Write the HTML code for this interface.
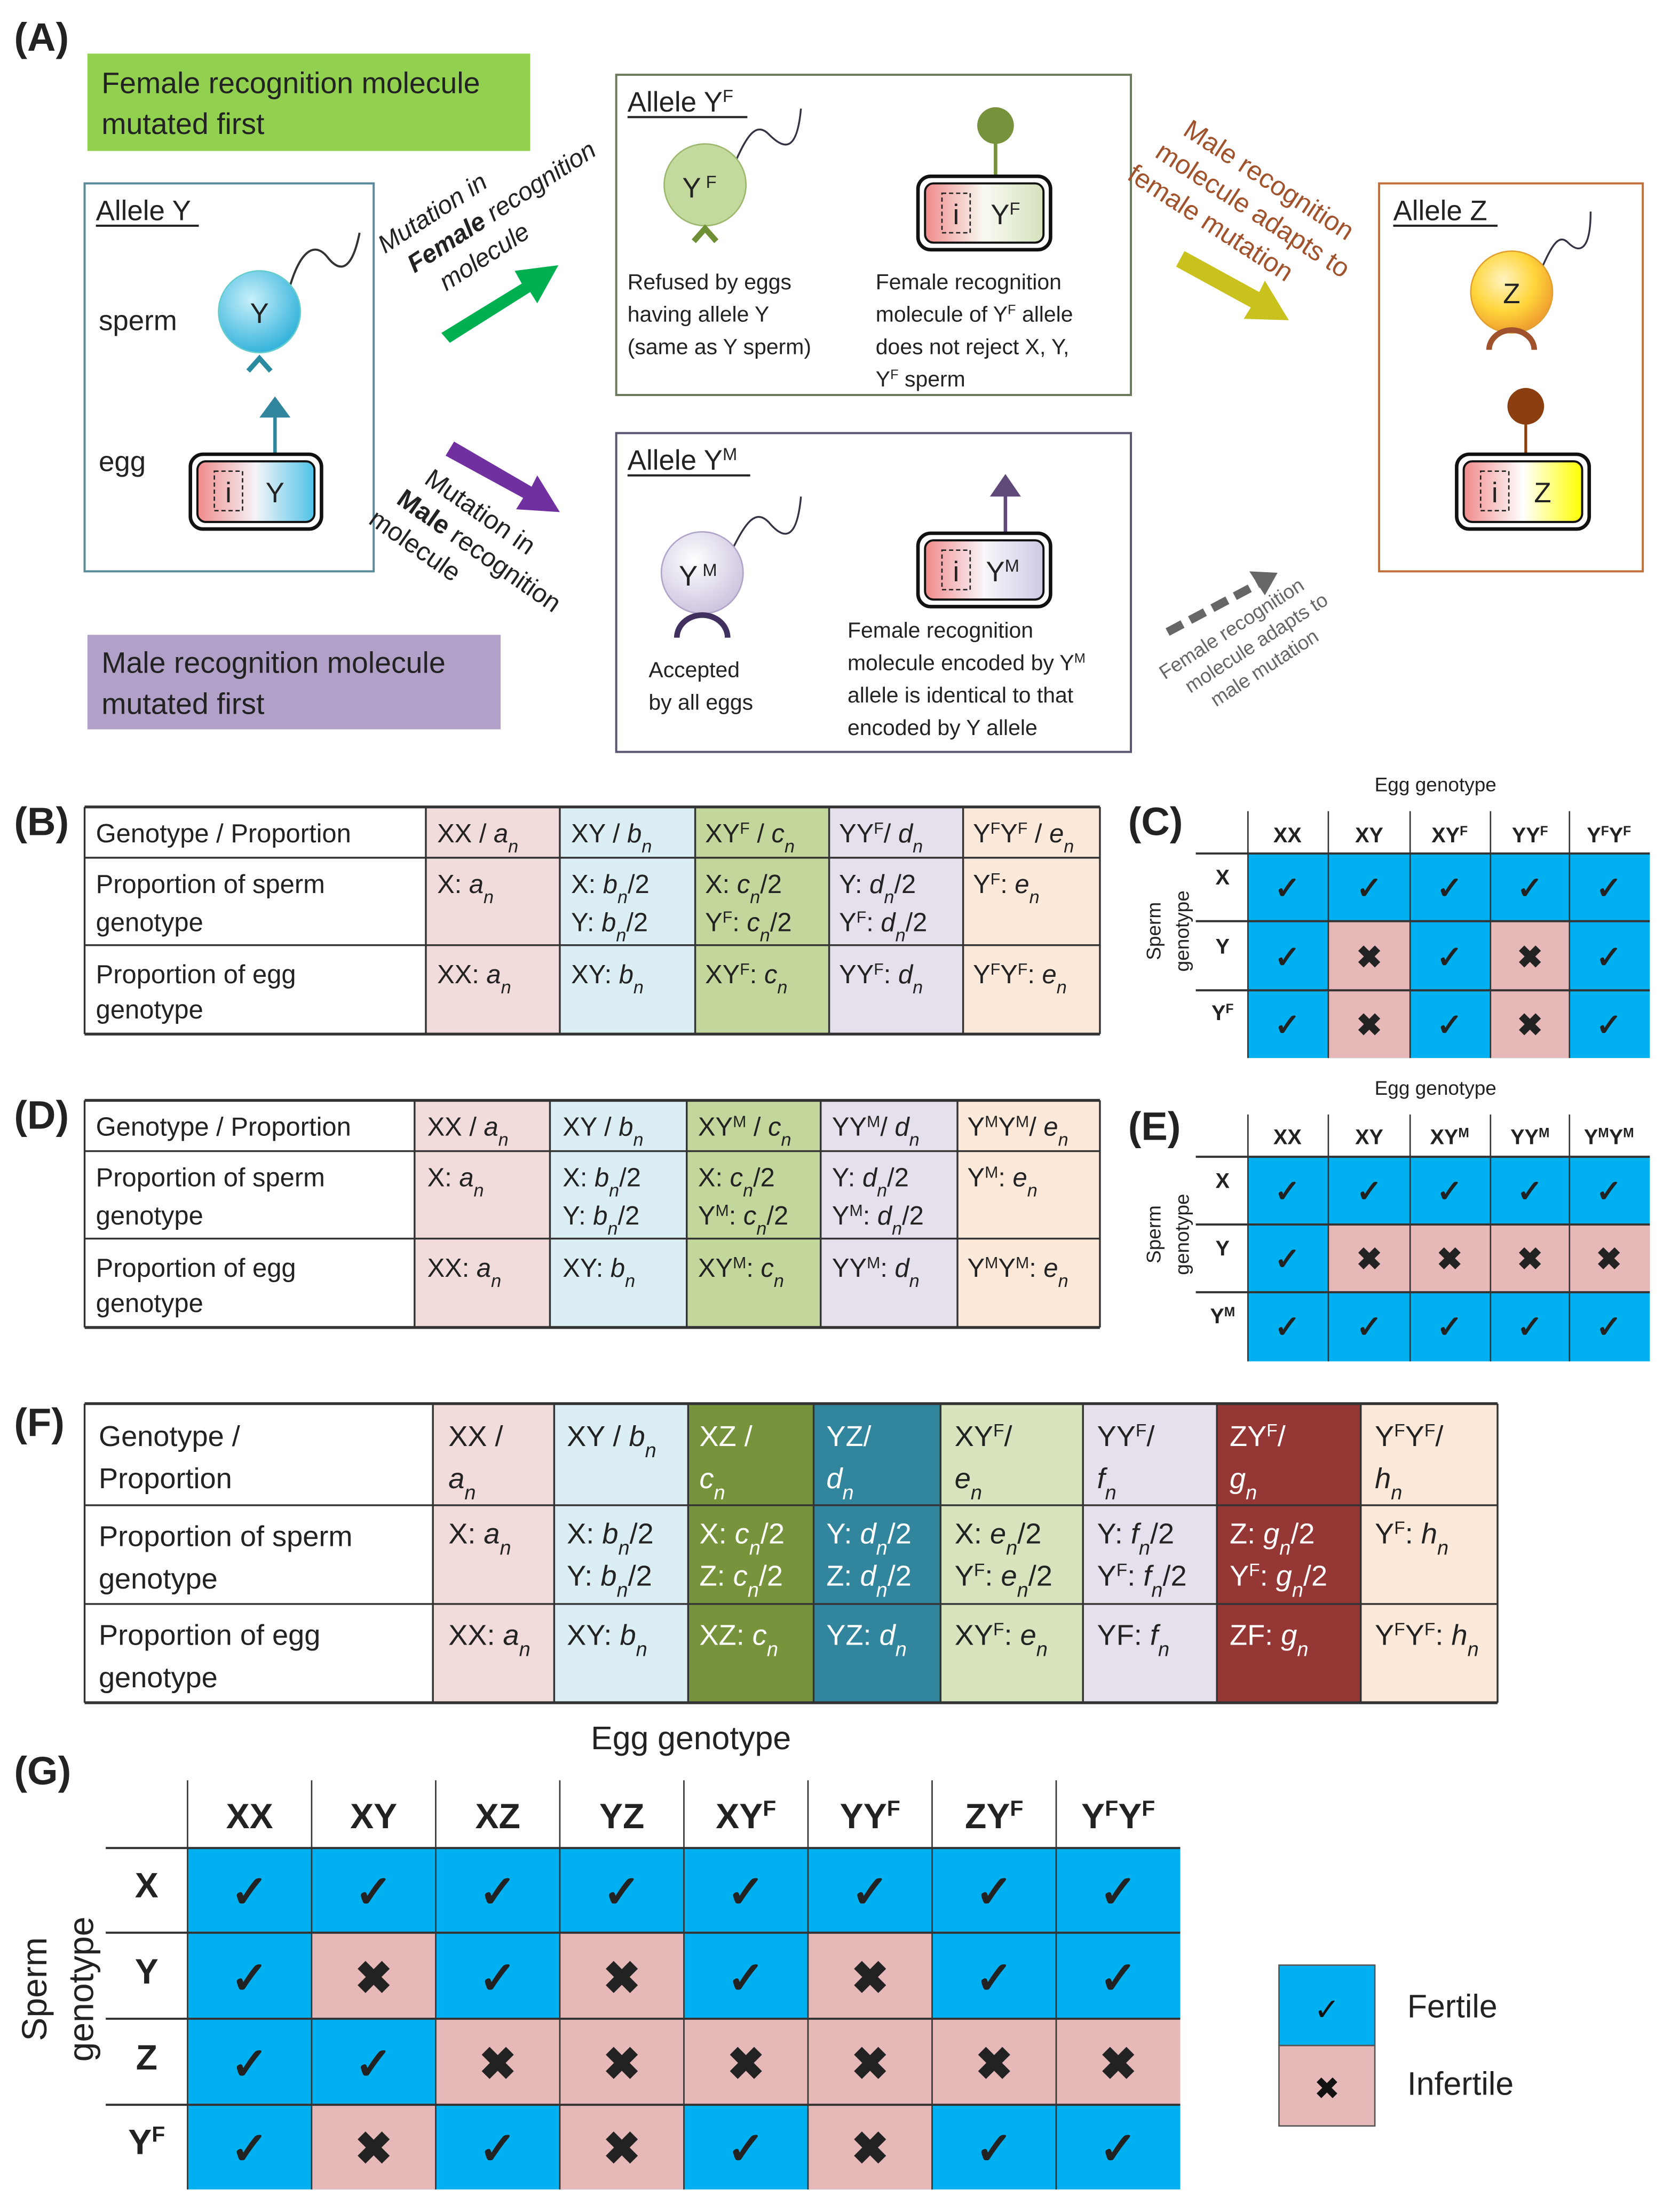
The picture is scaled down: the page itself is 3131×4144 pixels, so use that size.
<!DOCTYPE html>
<html><head><meta charset="utf-8">
<style>
html,body{margin:0;padding:0;background:#fff;}
svg{display:block;}
text{font-family:"Liberation Sans",sans-serif;fill:#222;}
.i{font-style:italic;}
.sb{baseline-shift:sub;font-size:70%;font-style:italic;}
.sp{baseline-shift:super;font-size:62%;}
.b{font-weight:bold;}
.w{fill:#fff;}
.ck{font-family:"DejaVu Sans",sans-serif;font-size:22px;font-weight:bold;text-anchor:middle;fill:#111;}
.ckg{font-family:"DejaVu Sans",sans-serif;font-size:32px;font-weight:bold;text-anchor:middle;fill:#111;}
</style></head>
<body>
<svg width="3131" height="4144" viewBox="0 0 1185 1568" preserveAspectRatio="none" xmlns="http://www.w3.org/2000/svg">
<defs>
<radialGradient id="gb" cx="40%" cy="35%" r="65%"><stop offset="0" stop-color="#c8f0fb"/><stop offset="1" stop-color="#37b4dc"/></radialGradient>
<radialGradient id="gy" cx="40%" cy="35%" r="65%"><stop offset="0" stop-color="#fff3c0"/><stop offset="0.6" stop-color="#ffd53a"/><stop offset="1" stop-color="#f0a030"/></radialGradient>
<radialGradient id="gm" cx="40%" cy="35%" r="65%"><stop offset="0" stop-color="#ffffff"/><stop offset="1" stop-color="#cfc5e0"/></radialGradient>
<linearGradient id="eY"><stop offset="0" stop-color="#f08a8a"/><stop offset="0.5" stop-color="#f4f4f8"/><stop offset="1" stop-color="#4fc3e8"/></linearGradient>
<linearGradient id="eF"><stop offset="0" stop-color="#f08a8a"/><stop offset="0.5" stop-color="#f8faf2"/><stop offset="1" stop-color="#d4e2bc"/></linearGradient>
<linearGradient id="eM"><stop offset="0" stop-color="#f08a8a"/><stop offset="0.5" stop-color="#f8f6fa"/><stop offset="1" stop-color="#d0c8e4"/></linearGradient>
<linearGradient id="eZ"><stop offset="0" stop-color="#f08a8a"/><stop offset="0.5" stop-color="#ffffff"/><stop offset="1" stop-color="#ffff00"/></linearGradient>
</defs>

<!-- ===== Panel A ===== -->
<text x="10" y="36" class="b" font-size="28">(A)</text>
<rect x="62" y="38" width="314" height="69" fill="#92d050"/>
<text x="72" y="66" font-size="21">Female recognition molecule</text>
<text x="72" y="95" font-size="21">mutated first</text>

<rect x="62" y="450" width="293" height="67" fill="#b1a0c7"/>
<text x="72" y="477" font-size="21">Male recognition molecule</text>
<text x="72" y="506" font-size="21">mutated first</text>

<!-- Allele Y -->
<rect x="60" y="130" width="205" height="275" fill="#fff" stroke="#5b8a9a" stroke-width="1.5"/>
<text x="68" y="156" font-size="20">Allele Y</text>
<line x1="68" y1="160" x2="141" y2="160" stroke="#222" stroke-width="1.5"/>
<text x="70" y="234" font-size="20">sperm</text>
<text x="70" y="334" font-size="20">egg</text>
<path d="M205,205 C212,180 222,170 232,182 C242,195 250,190 255,165" fill="none" stroke="#333" stroke-width="1.5"/>
<circle cx="184" cy="221" r="29" fill="url(#gb)" stroke="#6cc" stroke-width="1"/>
<text x="184" y="229" font-size="20" text-anchor="middle">Y</text>
<path d="M176,263 L184,254 L192,263" fill="none" stroke="#2a8aa0" stroke-width="3.5"/>
<line x1="195" y1="322" x2="195" y2="293" stroke="#31859c" stroke-width="2.5"/>
<polygon points="184,296 206,296 195,281" fill="#31859c"/>
<rect x="135" y="322" width="93" height="53" rx="9" fill="#fff" stroke="#111" stroke-width="2.5"/>
<rect x="140" y="327" width="83" height="43" rx="6" fill="url(#eY)" stroke="#111" stroke-width="1.5"/>
<rect x="152" y="334" width="20" height="28" fill="none" stroke="#222" stroke-dasharray="3,2"/>
<text x="162" y="356" font-size="20" text-anchor="middle">i</text>
<text x="195" y="356" font-size="20" text-anchor="middle">Y</text>

<!-- Green arrow -->
<polygon points="313,236 370,201 365,192 396,188 381,215 376,207 319,243" fill="#00b050"/>
<g transform="translate(273,180) rotate(-33)">
<text x="0" y="0" font-size="18" class="i">Mutation in</text>
<text x="10" y="23" font-size="18" class="i"><tspan class="b">Female</tspan> recognition</text>
<text x="22" y="46" font-size="18" class="i">molecule</text>
</g>
<!-- Purple arrow -->
<polygon points="316,323 322,313 377,345 381,337 397,363 366,361 371,353" fill="#7030a0"/>
<g transform="translate(300,342) rotate(35)">
<text x="0" y="0" font-size="18.5">Mutation in</text>
<text x="-8" y="23" font-size="18.5"><tspan class="b">Male</tspan> recognition</text>
<text x="-16" y="46" font-size="18.5">molecule</text>
</g>

<!-- Allele YF -->
<rect x="437" y="53" width="365" height="227" fill="#fff" stroke="#6b7a5a" stroke-width="1.5"/>
<text x="445" y="79" font-size="20">Allele Y<tspan class="sp">F</tspan></text>
<line x1="445" y1="83" x2="530" y2="83" stroke="#222" stroke-width="1.5"/>
<path d="M520,118 C528,100 535,85 545,95 C555,105 565,110 568,77" fill="none" stroke="#334" stroke-width="1.3"/>
<circle cx="500" cy="131" r="29" fill="#c4d99e" stroke="#9bb86c" stroke-width="1"/>
<text x="496" y="140" font-size="20" text-anchor="middle">Y<tspan class="sp" font-size="12"> F</tspan></text>
<path d="M492,171 L500,162 L508,171" fill="none" stroke="#6f8f35" stroke-width="4"/>
<line x1="706" y1="97" x2="706" y2="126" stroke="#76923c" stroke-width="2.5"/>
<circle cx="706" cy="89" r="13" fill="#76923c"/>
<rect x="651" y="125" width="94" height="52" rx="9" fill="#fff" stroke="#111" stroke-width="2.5"/>
<rect x="656" y="130" width="84" height="42" rx="6" fill="url(#eF)" stroke="#111" stroke-width="1.5"/>
<rect x="668" y="137" width="20" height="28" fill="none" stroke="#222" stroke-dasharray="3,2"/>
<text x="678" y="159" font-size="20" text-anchor="middle">i</text>
<text x="713" y="159" font-size="20" text-anchor="middle">Y<tspan class="sp">F</tspan></text>
<text x="445" y="205" font-size="15.5">Refused by eggs</text>
<text x="445" y="228" font-size="15.5">having allele Y</text>
<text x="445" y="251" font-size="15.5">(same as Y sperm)</text>
<text x="621" y="205" font-size="15.5">Female recognition</text>
<text x="621" y="228" font-size="15.5">molecule of Y<tspan class="sp">F</tspan> allele</text>
<text x="621" y="251" font-size="15.5">does not reject X, Y,</text>
<text x="621" y="274" font-size="15.5">Y<tspan class="sp">F</tspan> sperm</text>

<!-- Allele YM -->
<rect x="437" y="307" width="365" height="226" fill="#fff" stroke="#5a5470" stroke-width="1.5"/>
<text x="445" y="333" font-size="20">Allele Y<tspan class="sp">M</tspan></text>
<line x1="445" y1="337" x2="532" y2="337" stroke="#222" stroke-width="1.5"/>
<path d="M518,392 C528,372 535,360 545,370 C555,382 565,385 568,352" fill="none" stroke="#334" stroke-width="1.3"/>
<circle cx="498" cy="406" r="29" fill="url(#gm)" stroke="#b0a4c8" stroke-width="1"/>
<text x="495" y="415" font-size="20" text-anchor="middle">Y<tspan class="sp" font-size="12"> M</tspan></text>
<path d="M480,452 A18,16 0 0 1 516,452" fill="none" stroke="#3f3060" stroke-width="4"/>
<line x1="713" y1="378" x2="713" y2="350" stroke="#5f497a" stroke-width="2.5"/>
<polygon points="702,352 724,352 713,336" fill="#5f497a"/>
<rect x="651" y="378" width="94" height="52" rx="9" fill="#fff" stroke="#111" stroke-width="2.5"/>
<rect x="656" y="383" width="84" height="42" rx="6" fill="url(#eM)" stroke="#111" stroke-width="1.5"/>
<rect x="668" y="390" width="20" height="28" fill="none" stroke="#222" stroke-dasharray="3,2"/>
<text x="678" y="412" font-size="20" text-anchor="middle">i</text>
<text x="711" y="412" font-size="20" text-anchor="middle">Y<tspan class="sp">M</tspan></text>
<text x="460" y="480" font-size="15.5">Accepted</text>
<text x="460" y="503" font-size="15.5">by all eggs</text>
<text x="601" y="452" font-size="15.5">Female recognition</text>
<text x="601" y="475" font-size="15.5">molecule encoded by Y<tspan class="sp">M</tspan></text>
<text x="601" y="498" font-size="15.5">allele is identical to that</text>
<text x="601" y="521" font-size="15.5">encoded by Y allele</text>

<!-- Yellow arrow + text -->
<polygon points="834,189 840,178 893,207 897,199 914,227 882,226 887,218" fill="#c9c21e"/>
<g transform="translate(838,95) rotate(33)">
<text x="0" y="0" font-size="19" style="fill:#a0522d">Male recognition</text>
<text x="-8" y="24" font-size="19" style="fill:#a0522d">molecule adapts to</text>
<text x="-16" y="48" font-size="19" style="fill:#a0522d">female mutation</text>
</g>
<!-- Gray dashed arrow + text -->
<line x1="828" y1="448" x2="892" y2="414" stroke="#666" stroke-width="6" stroke-dasharray="12,6"/>
<polygon points="886,405 906,406 897,422" fill="#666"/>
<g transform="translate(826,482) rotate(-33)">
<text x="0" y="0" font-size="14" style="fill:#666">Female recognition</text>
<text x="10" y="18" font-size="14" style="fill:#666">molecule adapts to</text>
<text x="20" y="36" font-size="14" style="fill:#666">male mutation</text>
</g>

<!-- Allele Z -->
<rect x="978" y="130" width="187" height="275" fill="#fff" stroke="#c0703a" stroke-width="1.5"/>
<text x="988" y="156" font-size="20">Allele Z</text>
<line x1="988" y1="160" x2="1062" y2="160" stroke="#222" stroke-width="1.5"/>
<path d="M1092,193 C1100,175 1105,165 1112,172 C1120,180 1128,178 1128,150" fill="none" stroke="#334" stroke-width="1.3"/>
<circle cx="1072" cy="207" r="29" fill="url(#gy)" stroke="#e0a030" stroke-width="1"/>
<text x="1072" y="215" font-size="20" text-anchor="middle">Z</text>
<path d="M1056,248 A16,14 0 0 1 1088,248" fill="none" stroke="#a0522d" stroke-width="4"/>
<line x1="1082" y1="296" x2="1082" y2="323" stroke="#8b3f10" stroke-width="2"/>
<circle cx="1082" cy="288" r="13" fill="#8b3f10"/>
<rect x="1033" y="322" width="94" height="53" rx="9" fill="#fff" stroke="#111" stroke-width="2.5"/>
<rect x="1038" y="327" width="84" height="43" rx="6" fill="url(#eZ)" stroke="#111" stroke-width="1.5"/>
<rect x="1050" y="334" width="20" height="28" fill="none" stroke="#222" stroke-dasharray="3,2"/>
<text x="1060" y="356" font-size="20" text-anchor="middle">i</text>
<text x="1094" y="356" font-size="20" text-anchor="middle">Z</text>

<!-- ===== Panel B ===== -->
<text x="10" y="592" class="b" font-size="28">(B)</text>
<rect x="302" y="572" width="95" height="161" fill="#f2dcdb"/>
<rect x="397" y="572" width="96" height="161" fill="#dbeef4"/>
<rect x="493" y="572" width="95" height="161" fill="#c3d69b"/>
<rect x="588" y="572" width="95" height="161" fill="#e5e0ec"/>
<rect x="683" y="572" width="97" height="161" fill="#fde9d9"/>
<g stroke="#333" stroke-width="1.3">
<line x1="60" y1="572" x2="780" y2="572" stroke-width="2"/><line x1="60" y1="608" x2="780" y2="608"/><line x1="60" y1="670" x2="780" y2="670"/><line x1="60" y1="733" x2="780" y2="733" stroke-width="2"/>
<line x1="60" y1="572" x2="60" y2="733"/><line x1="302" y1="572" x2="302" y2="733"/><line x1="397" y1="572" x2="397" y2="733"/><line x1="493" y1="572" x2="493" y2="733"/><line x1="588" y1="572" x2="588" y2="733"/><line x1="683" y1="572" x2="683" y2="733"/><line x1="780" y1="572" x2="780" y2="733"/>
</g>
<g font-size="18.5">
<text x="68" y="597">Genotype / Proportion</text>
<text x="68" y="633">Proportion of  sperm</text><text x="68" y="660">genotype</text>
<text x="68" y="697">Proportion of egg</text><text x="68" y="722">genotype</text>
<text x="310" y="597">XX / <tspan class="i">a</tspan><tspan class="sb">n</tspan></text>
<text x="405" y="597">XY /  <tspan class="i">b</tspan><tspan class="sb">n</tspan></text>
<text x="500" y="597">XY<tspan class="sp">F</tspan> /  <tspan class="i">c</tspan><tspan class="sb">n</tspan></text>
<text x="595" y="597">YY<tspan class="sp">F</tspan>/  <tspan class="i">d</tspan><tspan class="sb">n</tspan></text>
<text x="690" y="597">Y<tspan class="sp">F</tspan>Y<tspan class="sp">F</tspan> / <tspan class="i">e</tspan><tspan class="sb">n</tspan></text>
<text x="310" y="633">X: <tspan class="i">a</tspan><tspan class="sb">n</tspan></text>
<text x="405" y="633">X: <tspan class="i">b</tspan><tspan class="sb">n</tspan>/2</text><text x="405" y="660">Y: <tspan class="i">b</tspan><tspan class="sb">n</tspan>/2</text>
<text x="500" y="633">X: <tspan class="i">c</tspan><tspan class="sb">n</tspan>/2</text><text x="500" y="660">Y<tspan class="sp">F</tspan>: <tspan class="i">c</tspan><tspan class="sb">n</tspan>/2</text>
<text x="595" y="633">Y: <tspan class="i">d</tspan><tspan class="sb">n</tspan>/2</text><text x="595" y="660">Y<tspan class="sp">F</tspan>: <tspan class="i">d</tspan><tspan class="sb">n</tspan>/2</text>
<text x="690" y="633">Y<tspan class="sp">F</tspan>: <tspan class="i">e</tspan><tspan class="sb">n</tspan></text>
<text x="310" y="697">XX: <tspan class="i">a</tspan><tspan class="sb">n</tspan></text>
<text x="405" y="697">XY: <tspan class="i">b</tspan><tspan class="sb">n</tspan></text>
<text x="500" y="697">XY<tspan class="sp">F</tspan>: <tspan class="i">c</tspan><tspan class="sb">n</tspan></text>
<text x="595" y="697">YY<tspan class="sp">F</tspan>: <tspan class="i">d</tspan><tspan class="sb">n</tspan></text>
<text x="690" y="697">Y<tspan class="sp">F</tspan>Y<tspan class="sp">F</tspan>: <tspan class="i">e</tspan><tspan class="sb">n</tspan></text>
</g>

<!-- ===== Panel C ===== -->
<text x="1018" y="561" font-size="14" text-anchor="middle">Egg genotype</text>
<text x="800" y="592" class="b" font-size="28">(C)</text>
<rect x="885" y="605" width="285" height="145" fill="#00b0f0"/>
<rect x="942" y="653" width="58" height="97" fill="#e6b9b8"/>
<rect x="1057" y="653" width="56" height="97" fill="#e6b9b8"/>
<g stroke="#333" stroke-width="1">
<line x1="885" y1="575" x2="885" y2="750"/><line x1="942" y1="575" x2="942" y2="750"/><line x1="1000" y1="575" x2="1000" y2="750"/><line x1="1057" y1="575" x2="1057" y2="750"/><line x1="1113" y1="575" x2="1113" y2="750"/>
<line x1="848" y1="605" x2="1170" y2="605" stroke-width="1.5"/><line x1="848" y1="653" x2="1170" y2="653" stroke-width="1.5"/><line x1="848" y1="702" x2="1170" y2="702" stroke-width="1.5"/>
</g>
<g class="b" font-size="15" text-anchor="middle">
<text x="913" y="597">XX</text><text x="971" y="597">XY</text><text x="1028" y="597">XY<tspan class="sp">F</tspan></text><text x="1085" y="597">YY<tspan class="sp">F</tspan></text><text x="1141" y="597">Y<tspan class="sp">F</tspan>Y<tspan class="sp">F</tspan></text>
<text x="867" y="627">X</text><text x="867" y="676">Y</text><text x="867" y="723">Y<tspan class="sp">F</tspan></text>
</g>
<text transform="translate(823,660) rotate(-90)" font-size="14" text-anchor="middle">Sperm</text>
<text transform="translate(843,660) rotate(-90)" font-size="14" text-anchor="middle">genotype</text>
<g class="ck">
<text x="913" y="637">✓</text><text x="971" y="637">✓</text><text x="1028" y="637">✓</text><text x="1085" y="637">✓</text><text x="1141" y="637">✓</text>
<text x="913" y="686">✓</text><text x="971" y="686">✖</text><text x="1028" y="686">✓</text><text x="1085" y="686">✖</text><text x="1141" y="686">✓</text>
<text x="913" y="734">✓</text><text x="971" y="734">✖</text><text x="1028" y="734">✓</text><text x="1085" y="734">✖</text><text x="1141" y="734">✓</text>
</g>

<!-- ===== Panel D ===== -->
<text x="10" y="800" class="b" font-size="28">(D)</text>
<rect x="294" y="780" width="96" height="161" fill="#f2dcdb"/>
<rect x="390" y="780" width="97" height="161" fill="#dbeef4"/>
<rect x="487" y="780" width="95" height="161" fill="#c3d69b"/>
<rect x="582" y="780" width="97" height="161" fill="#e5e0ec"/>
<rect x="679" y="780" width="101" height="161" fill="#fde9d9"/>
<g stroke="#333" stroke-width="1.3">
<line x1="60" y1="780" x2="780" y2="780" stroke-width="2"/><line x1="60" y1="816" x2="780" y2="816"/><line x1="60" y1="878" x2="780" y2="878"/><line x1="60" y1="941" x2="780" y2="941" stroke-width="2"/>
<line x1="60" y1="780" x2="60" y2="941"/><line x1="294" y1="780" x2="294" y2="941"/><line x1="390" y1="780" x2="390" y2="941"/><line x1="487" y1="780" x2="487" y2="941"/><line x1="582" y1="780" x2="582" y2="941"/><line x1="679" y1="780" x2="679" y2="941"/><line x1="780" y1="780" x2="780" y2="941"/>
</g>
<g font-size="18.5">
<text x="68" y="805">Genotype / Proportion</text>
<text x="68" y="841">Proportion of  sperm</text><text x="68" y="868">genotype</text>
<text x="68" y="905">Proportion of egg</text><text x="68" y="930">genotype</text>
<text x="303" y="805">XX / <tspan class="i">a</tspan><tspan class="sb">n</tspan></text>
<text x="399" y="805">XY /  <tspan class="i">b</tspan><tspan class="sb">n</tspan></text>
<text x="495" y="805">XY<tspan class="sp">M</tspan> / <tspan class="i">c</tspan><tspan class="sb">n</tspan></text>
<text x="590" y="805">YY<tspan class="sp">M</tspan>/ <tspan class="i">d</tspan><tspan class="sb">n</tspan></text>
<text x="686" y="805">Y<tspan class="sp">M</tspan>Y<tspan class="sp">M</tspan>/ <tspan class="i">e</tspan><tspan class="sb">n</tspan></text>
<text x="303" y="841">X: <tspan class="i">a</tspan><tspan class="sb">n</tspan></text>
<text x="399" y="841">X: <tspan class="i">b</tspan><tspan class="sb">n</tspan>/2</text><text x="399" y="868">Y: <tspan class="i">b</tspan><tspan class="sb">n</tspan>/2</text>
<text x="495" y="841">X: <tspan class="i">c</tspan><tspan class="sb">n</tspan>/2</text><text x="495" y="868">Y<tspan class="sp">M</tspan>: <tspan class="i">c</tspan><tspan class="sb">n</tspan>/2</text>
<text x="590" y="841">Y: <tspan class="i">d</tspan><tspan class="sb">n</tspan>/2</text><text x="590" y="868">Y<tspan class="sp">M</tspan>: <tspan class="i">d</tspan><tspan class="sb">n</tspan>/2</text>
<text x="686" y="841">Y<tspan class="sp">M</tspan>: <tspan class="i">e</tspan><tspan class="sb">n</tspan></text>
<text x="303" y="905">XX: <tspan class="i">a</tspan><tspan class="sb">n</tspan></text>
<text x="399" y="905">XY: <tspan class="i">b</tspan><tspan class="sb">n</tspan></text>
<text x="495" y="905">XY<tspan class="sp">M</tspan>: <tspan class="i">c</tspan><tspan class="sb">n</tspan></text>
<text x="590" y="905">YY<tspan class="sp">M</tspan>: <tspan class="i">d</tspan><tspan class="sb">n</tspan></text>
<text x="686" y="905">Y<tspan class="sp">M</tspan>Y<tspan class="sp">M</tspan>: <tspan class="i">e</tspan><tspan class="sb">n</tspan></text>
</g>

<!-- ===== Panel E ===== -->
<text x="1018" y="776" font-size="14" text-anchor="middle">Egg genotype</text>
<text x="800" y="808" class="b" font-size="28">(E)</text>
<rect x="885" y="820" width="285" height="145" fill="#00b0f0"/>
<rect x="942" y="868" width="228" height="48" fill="#e6b9b8"/>
<g stroke="#333" stroke-width="1">
<line x1="885" y1="790" x2="885" y2="965"/><line x1="942" y1="790" x2="942" y2="965"/><line x1="1000" y1="790" x2="1000" y2="965"/><line x1="1057" y1="790" x2="1057" y2="965"/><line x1="1113" y1="790" x2="1113" y2="965"/>
<line x1="848" y1="820" x2="1170" y2="820" stroke-width="1.5"/><line x1="848" y1="868" x2="1170" y2="868" stroke-width="1.5"/><line x1="848" y1="916" x2="1170" y2="916" stroke-width="1.5"/>
</g>
<g class="b" font-size="15" text-anchor="middle">
<text x="913" y="811">XX</text><text x="971" y="811">XY</text><text x="1028" y="811">XY<tspan class="sp">M</tspan></text><text x="1085" y="811">YY<tspan class="sp">M</tspan></text><text x="1141" y="811">Y<tspan class="sp">M</tspan>Y<tspan class="sp">M</tspan></text>
<text x="867" y="842">X</text><text x="867" y="890">Y</text><text x="867" y="938">Y<tspan class="sp">M</tspan></text>
</g>
<text transform="translate(823,875) rotate(-90)" font-size="14" text-anchor="middle">Sperm</text>
<text transform="translate(843,875) rotate(-90)" font-size="14" text-anchor="middle">genotype</text>
<g class="ck">
<text x="913" y="852">✓</text><text x="971" y="852">✓</text><text x="1028" y="852">✓</text><text x="1085" y="852">✓</text><text x="1141" y="852">✓</text>
<text x="913" y="900">✓</text><text x="971" y="900">✖</text><text x="1028" y="900">✖</text><text x="1085" y="900">✖</text><text x="1141" y="900">✖</text>
<text x="913" y="948">✓</text><text x="971" y="948">✓</text><text x="1028" y="948">✓</text><text x="1085" y="948">✓</text><text x="1141" y="948">✓</text>
</g>

<!-- ===== Panel F ===== -->
<text x="10" y="1018" class="b" font-size="28">(F)</text>
<rect x="307" y="995" width="86" height="212" fill="#f2dcdb"/>
<rect x="393" y="995" width="95" height="212" fill="#dbeef4"/>
<rect x="488" y="995" width="89" height="212" fill="#77933c"/>
<rect x="577" y="995" width="90" height="212" fill="#31859c"/>
<rect x="667" y="995" width="101" height="212" fill="#d7e4bd"/>
<rect x="768" y="995" width="95" height="212" fill="#e5e0ec"/>
<rect x="863" y="995" width="102" height="212" fill="#953735"/>
<rect x="965" y="995" width="97" height="212" fill="#fde9d9"/>
<g stroke="#333" stroke-width="1.3">
<line x1="60" y1="995" x2="1062" y2="995" stroke-width="2"/><line x1="60" y1="1067" x2="1062" y2="1067"/><line x1="60" y1="1137" x2="1062" y2="1137"/><line x1="60" y1="1207" x2="1062" y2="1207" stroke-width="2"/>
<line x1="60" y1="995" x2="60" y2="1207"/><line x1="307" y1="995" x2="307" y2="1207"/><line x1="393" y1="995" x2="393" y2="1207"/><line x1="488" y1="995" x2="488" y2="1207"/><line x1="577" y1="995" x2="577" y2="1207"/><line x1="667" y1="995" x2="667" y2="1207"/><line x1="768" y1="995" x2="768" y2="1207"/><line x1="863" y1="995" x2="863" y2="1207"/><line x1="965" y1="995" x2="965" y2="1207"/><line x1="1062" y1="995" x2="1062" y2="1207"/>
</g>
<g font-size="20.5">
<text x="70" y="1025">Genotype /</text><text x="70" y="1055">Proportion</text>
<text x="70" y="1096">Proportion of  sperm</text><text x="70" y="1126">genotype</text>
<text x="70" y="1166">Proportion of egg</text><text x="70" y="1196">genotype</text>
<text x="318" y="1025">XX /</text><text x="318" y="1055"><tspan class="i">a</tspan><tspan class="sb">n</tspan></text>
<text x="402" y="1025">XY /  <tspan class="i">b</tspan><tspan class="sb">n</tspan></text>
<text x="496" y="1025" class="w">XZ /</text><text x="496" y="1055" class="w"><tspan class="i w">c</tspan><tspan class="sb w">n</tspan></text>
<text x="586" y="1025" class="w">YZ/</text><text x="586" y="1055" class="w"><tspan class="i w">d</tspan><tspan class="sb w">n</tspan></text>
<text x="677" y="1025">XY<tspan class="sp">F</tspan>/</text><text x="677" y="1055"><tspan class="i">e</tspan><tspan class="sb">n</tspan></text>
<text x="778" y="1025">YY<tspan class="sp">F</tspan>/</text><text x="778" y="1055"><tspan class="i">f</tspan><tspan class="sb">n</tspan></text>
<text x="872" y="1025" class="w">ZY<tspan class="sp w">F</tspan>/</text><text x="872" y="1055" class="w"><tspan class="i w">g</tspan><tspan class="sb w">n</tspan></text>
<text x="975" y="1025">Y<tspan class="sp">F</tspan>Y<tspan class="sp">F</tspan>/</text><text x="975" y="1055"><tspan class="i">h</tspan><tspan class="sb">n</tspan></text>

<text x="318" y="1094">X: <tspan class="i">a</tspan><tspan class="sb">n</tspan></text>
<text x="402" y="1094">X: <tspan class="i">b</tspan><tspan class="sb">n</tspan>/2</text><text x="402" y="1124">Y: <tspan class="i">b</tspan><tspan class="sb">n</tspan>/2</text>
<text x="496" y="1094" class="w">X: <tspan class="i w">c</tspan><tspan class="sb w">n</tspan>/2</text><text x="496" y="1124" class="w">Z: <tspan class="i w">c</tspan><tspan class="sb w">n</tspan>/2</text>
<text x="586" y="1094" class="w">Y: <tspan class="i w">d</tspan><tspan class="sb w">n</tspan>/2</text><text x="586" y="1124" class="w">Z: <tspan class="i w">d</tspan><tspan class="sb w">n</tspan>/2</text>
<text x="677" y="1094">X: <tspan class="i">e</tspan><tspan class="sb">n</tspan>/2</text><text x="677" y="1124">Y<tspan class="sp">F</tspan>: <tspan class="i">e</tspan><tspan class="sb">n</tspan>/2</text>
<text x="778" y="1094">Y: <tspan class="i">f</tspan><tspan class="sb">n</tspan>/2</text><text x="778" y="1124">Y<tspan class="sp">F</tspan>: <tspan class="i">f</tspan><tspan class="sb">n</tspan>/2</text>
<text x="872" y="1094" class="w">Z: <tspan class="i w">g</tspan><tspan class="sb w">n</tspan>/2</text><text x="872" y="1124" class="w">Y<tspan class="sp w">F</tspan>: <tspan class="i w">g</tspan><tspan class="sb w">n</tspan>/2</text>
<text x="975" y="1094">Y<tspan class="sp">F</tspan>: <tspan class="i">h</tspan><tspan class="sb">n</tspan></text>

<text x="318" y="1166">XX: <tspan class="i">a</tspan><tspan class="sb">n</tspan></text>
<text x="402" y="1166">XY: <tspan class="i">b</tspan><tspan class="sb">n</tspan></text>
<text x="496" y="1166" class="w">XZ: <tspan class="i w">c</tspan><tspan class="sb w">n</tspan></text>
<text x="586" y="1166" class="w">YZ: <tspan class="i w">d</tspan><tspan class="sb w">n</tspan></text>
<text x="677" y="1166">XY<tspan class="sp">F</tspan>: <tspan class="i">e</tspan><tspan class="sb">n</tspan></text>
<text x="778" y="1166">YF: <tspan class="i">f</tspan><tspan class="sb">n</tspan></text>
<text x="872" y="1166" class="w">ZF: <tspan class="i w">g</tspan><tspan class="sb w">n</tspan></text>
<text x="975" y="1166">Y<tspan class="sp">F</tspan>Y<tspan class="sp">F</tspan>: <tspan class="i">h</tspan><tspan class="sb">n</tspan></text>
</g>

<!-- ===== Panel G ===== -->
<text x="490" y="1240" font-size="23" text-anchor="middle">Egg genotype</text>
<text x="10" y="1265" class="b" font-size="28">(G)</text>
<rect x="133" y="1310" width="704" height="242" fill="#00b0f0"/>
<g fill="#e6b9b8">
<rect x="221" y="1370" width="88" height="61"/><rect x="397" y="1370" width="88" height="61"/><rect x="573" y="1370" width="88" height="61"/>
<rect x="309" y="1431" width="528" height="61"/>
<rect x="221" y="1492" width="88" height="60"/><rect x="397" y="1492" width="88" height="60"/><rect x="573" y="1492" width="88" height="60"/>
</g>
<g stroke="#333" stroke-width="1">
<line x1="133" y1="1262" x2="133" y2="1552"/><line x1="221" y1="1262" x2="221" y2="1552"/><line x1="309" y1="1262" x2="309" y2="1552"/><line x1="397" y1="1262" x2="397" y2="1552"/><line x1="485" y1="1262" x2="485" y2="1552"/><line x1="573" y1="1262" x2="573" y2="1552"/><line x1="661" y1="1262" x2="661" y2="1552"/><line x1="749" y1="1262" x2="749" y2="1552"/>
<line x1="75" y1="1310" x2="837" y2="1310" stroke-width="1.5"/><line x1="75" y1="1370" x2="837" y2="1370" stroke-width="1.5"/><line x1="75" y1="1431" x2="837" y2="1431" stroke-width="1.5"/><line x1="75" y1="1492" x2="837" y2="1492" stroke-width="1.5"/>
</g>
<g class="b" font-size="25" text-anchor="middle">
<text x="177" y="1296">XX</text><text x="265" y="1296">XY</text><text x="353" y="1296">XZ</text><text x="441" y="1296">YZ</text><text x="529" y="1296">XY<tspan class="sp">F</tspan></text><text x="617" y="1296">YY<tspan class="sp">F</tspan></text><text x="705" y="1296">ZY<tspan class="sp">F</tspan></text><text x="793" y="1296">Y<tspan class="sp">F</tspan>Y<tspan class="sp">F</tspan></text>
<text x="104" y="1345">X</text><text x="104" y="1406">Y</text><text x="104" y="1467">Z</text><text x="104" y="1527">Y<tspan class="sp">F</tspan></text>
</g>
<text transform="translate(33,1410) rotate(-90)" font-size="25" text-anchor="middle">Sperm</text>
<text transform="translate(66,1410) rotate(-90)" font-size="25" text-anchor="middle">genotype</text>
<g class="ckg">
<text x="177" y="1352">✓</text><text x="265" y="1352">✓</text><text x="353" y="1352">✓</text><text x="441" y="1352">✓</text><text x="529" y="1352">✓</text><text x="617" y="1352">✓</text><text x="705" y="1352">✓</text><text x="793" y="1352">✓</text>
<text x="177" y="1413">✓</text><text x="265" y="1413">✖</text><text x="353" y="1413">✓</text><text x="441" y="1413">✖</text><text x="529" y="1413">✓</text><text x="617" y="1413">✖</text><text x="705" y="1413">✓</text><text x="793" y="1413">✓</text>
<text x="177" y="1474">✓</text><text x="265" y="1474">✓</text><text x="353" y="1474">✖</text><text x="441" y="1474">✖</text><text x="529" y="1474">✖</text><text x="617" y="1474">✖</text><text x="705" y="1474">✖</text><text x="793" y="1474">✖</text>
<text x="177" y="1534">✓</text><text x="265" y="1534">✖</text><text x="353" y="1534">✓</text><text x="441" y="1534">✖</text><text x="529" y="1534">✓</text><text x="617" y="1534">✖</text><text x="705" y="1534">✓</text><text x="793" y="1534">✓</text>
</g>
<!-- Legend -->
<rect x="907" y="1393" width="68" height="57" fill="#00b0f0" stroke="#555" stroke-width="1"/>
<rect x="907" y="1450" width="68" height="57" fill="#e6b9b8" stroke="#555" stroke-width="1"/>
<text x="941" y="1432" class="ck" font-size="24">✓</text>
<text x="941" y="1488" class="ck" font-size="20">✖</text>
<text x="998" y="1430" font-size="23">Fertile</text>
<text x="998" y="1485" font-size="23">Infertile</text>
</svg>
</body></html>
